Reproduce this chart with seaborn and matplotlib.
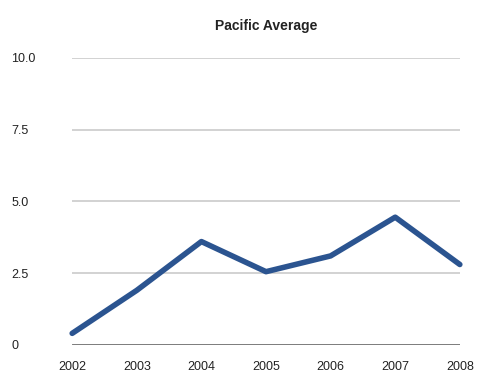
import matplotlib
matplotlib.use("Agg")
import matplotlib.pyplot as plt
import seaborn as sns
import pandas as pd

years = [2002, 2003, 2004, 2005, 2006, 2007, 2008]
values = [0.4, 1.9, 3.6, 2.55, 3.1, 4.45, 2.8]
yticks = [0, 2.5, 5.0, 7.5, 10.0]
ytick_labels = ["0", "2.5", "5.0", "7.5", "10.0"]

df = pd.DataFrame({"year": years, "value": values})

sns.set_theme(style="white")
plt.rcParams['font.family'] = ['Liberation Sans', 'DejaVu Sans']

fig = plt.figure(figsize=(4.78, 3.74), dpi=100)
ax = fig.add_axes([0.151, 0.078, 0.811, 0.767])

for t in yticks[1:]:
    ax.axhline(t, color='#cfcfcf', lw=1.3, zorder=1)
ax.axhline(0, color='#555555', lw=1.8, zorder=1)

sns.lineplot(data=df, x="year", y="value", ax=ax, color='#2b5490', lw=4.0,
             errorbar=None, zorder=3, clip_on=False)

ax.set_xlim(2002, 2008)
ax.set_ylim(0, 10)
ax.set_xticks(years)
ax.set_xticklabels([str(y) for y in years], fontsize=9, color='#222222')
ax.set_yticks(yticks)
ax.set_yticklabels(ytick_labels, fontsize=9, color='#222222', ha='left')
ax.tick_params(axis='y', length=0, pad=44)
ax.tick_params(axis='x', length=0, pad=12)
ax.set_xlabel("")
ax.set_ylabel("")
for s in ax.spines.values():
    s.set_visible(False)
ax.set_title("Pacific Average", fontsize=10, fontweight='bold', pad=20, color='#222222')

fig.savefig("out.png", dpi=100)
